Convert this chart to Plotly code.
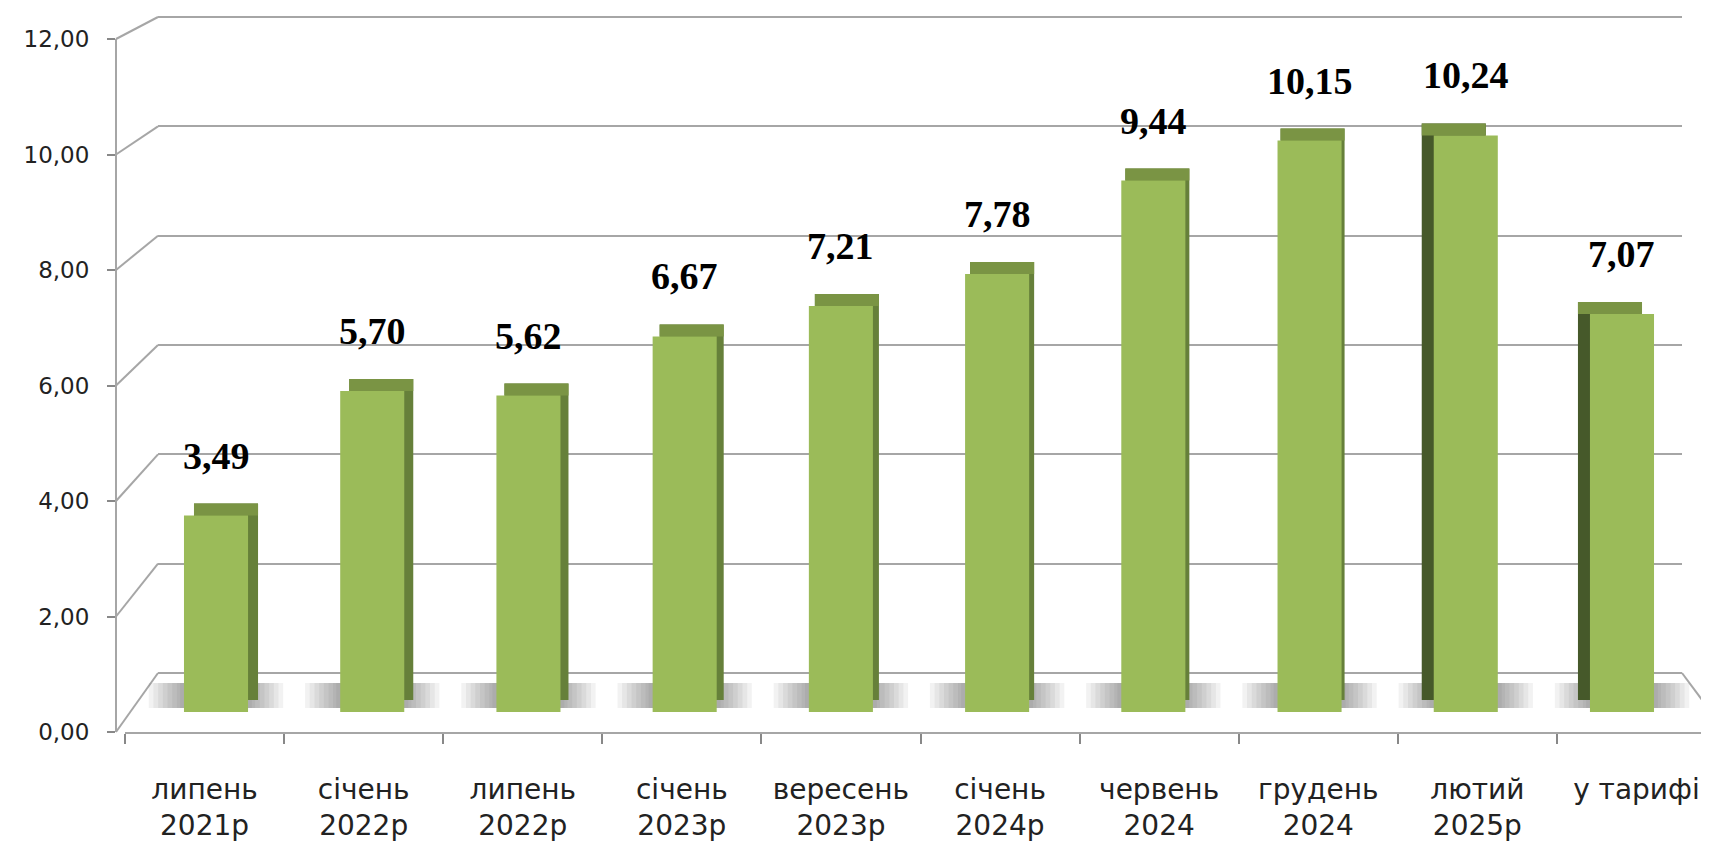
import plotly.graph_objects as go

# ---------------- data ----------------
categories = ["липень<br>2021р", "січень<br>2022р", "липень<br>2022р", "січень<br>2023р",
              "вересень<br>2023р", "січень<br>2024р", "червень<br>2024", "грудень<br>2024",
              "лютий<br>2025р", "у тарифі"]
values = [3.49, 5.70, 5.62, 6.67, 7.21, 7.78, 9.44, 10.15, 10.24, 7.07]
y_ticks = [0, 2, 4, 6, 8, 10, 12]

# ---------------- layout helpers ----------------
# the page body has an 8px margin, so the figure is drawn 8px in from the corner
OFF = 8
W, H = 1709 - OFF, 845 - OFF
def px(x):
    return (x - OFF) / W
def py(y):
    return 1 - (y - OFF) / H

n = len(categories)
SLOT = 156.2                 # px per category on the bar axis
LSLOT = 159.1                # px per category on the front (label) axis
UNIT = 56.3                  # px per value unit on the bar axis
BACK_UNIT = (673 - 17) / 12  # px per value unit on the back wall
BAR_W = 0.41
DY = 12 / UNIT               # depth (vertical) of the 3D top face in data units
side_dx_px = [10, 9, 8, 7, 6, 5, 4, 3, -12, -12]   # perspective of side faces
side_colors = ["#66803a" if d > 0 else "#46592a" for d in side_dx_px]
offsets = [-BAR_W / 2 + d / SLOT for d in side_dx_px]

FRONT = "#9bbb59"
TOP = "#7a9444"
GRID = "#a6a6a6"
TXT = "#222222"
X_AXIS_START = 125

fig = go.Figure()

# back wall (gridlines) subplot carrier
fig.add_trace(go.Scatter(x=[0], y=[0], mode="markers", marker=dict(opacity=0),
                         hoverinfo="skip", showlegend=False, xaxis="x", yaxis="y"))

# floor shadows (soft, layered)
shadow_widths = [0.86, 0.80, 0.74, 0.68, 0.62, 0.56, 0.50, 0.46]
for wdt in shadow_widths:
    fig.add_trace(go.Bar(x=categories, y=[0.445] * n, base=[0.07] * n, width=wdt,
                         marker=dict(color="rgba(80,80,80,0.075)", line=dict(width=0)),
                         hoverinfo="skip", showlegend=False, xaxis="x2", yaxis="y2"))

# side faces
fig.add_trace(go.Bar(x=categories, y=values, base=[DY] * n, width=BAR_W, offset=offsets,
                     marker=dict(color=side_colors, line=dict(width=0)),
                     hoverinfo="skip", showlegend=False, xaxis="x2", yaxis="y2"))
# top faces
fig.add_trace(go.Bar(x=categories, y=[DY] * n, base=values, width=BAR_W, offset=offsets,
                     marker=dict(color=TOP, line=dict(width=0)),
                     hoverinfo="skip", showlegend=False, xaxis="x2", yaxis="y2"))
# front faces
fig.add_trace(go.Bar(x=categories, y=values, width=BAR_W,
                     marker=dict(color=FRONT, line=dict(width=0)),
                     hoverinfo="skip", showlegend=False, xaxis="x2", yaxis="y2"))

# front axes carrier (invisible)
fig.add_trace(go.Scatter(x=categories, y=values, mode="markers", marker=dict(opacity=0),
                         hoverinfo="skip", showlegend=False, xaxis="x3", yaxis="y3"))

annotations = []
for c, v in zip(categories, values):
    annotations.append(dict(x=c, y=v, xref="x2", yref="y2",
                            text="<b>" + f"{v:.2f}".replace(".", ",") + "</b>",
                            showarrow=False, yshift=60, yanchor="middle",
                            font=dict(family="Liberation Serif", size=38, color="black")))

def front_frac(v):
    return py(732) + v / 12 * (py(39) - py(732))
def back_frac(v):
    return py(673) + v / 12 * (py(17) - py(673))

shapes = []
for v in y_ticks:
    shapes.append(dict(type="line", xref="paper", yref="paper",
                       x0=px(116), y0=front_frac(v), x1=px(158), y1=back_frac(v),
                       line=dict(color=GRID, width=2), layer="below"))
shapes.append(dict(type="line", xref="paper", yref="paper",
                   x0=px(1682), y0=py(673), x1=px(1726), y1=py(732),
                   line=dict(color=GRID, width=2), layer="below"))

hidden = dict(showticklabels=False, ticks="", showline=False, zeroline=False,
              showgrid=False, automargin=False)

fig.update_layout(
    template="none",
    width=W, height=H, autosize=False,
    margin=dict(l=0, r=0, t=0, b=0, pad=0),
    paper_bgcolor="white", plot_bgcolor="rgba(0,0,0,0)",
    barmode="overlay",
    separators=", ",
    showlegend=False,
    # back wall
    xaxis=dict(domain=[px(158), px(1682)], range=[0, 1], anchor="y", **hidden),
    yaxis=dict(domain=[py(673), py(673 - 12.05 * BACK_UNIT)], range=[0, 12.05], anchor="x",
               showgrid=True, gridcolor=GRID, gridwidth=2, tickvals=y_ticks,
               zeroline=True, zerolinecolor=GRID, zerolinewidth=2,
               showticklabels=False, ticks="", showline=False, automargin=False),
    # bars
    xaxis2=dict(domain=[px(216 - SLOT / 2), px(1622 + SLOT / 2)], range=[-0.5, 9.5],
                type="category", anchor="y2", **hidden),
    yaxis2=dict(domain=[py(712), py(712 - 12 * UNIT)], range=[0, 12], anchor="x2", **hidden),
    # front axes with labels
    xaxis3=dict(domain=[px(X_AXIS_START), 1],
                range=[-0.5, (1709 - X_AXIS_START) / LSLOT - 0.5], type="category",
                anchor="y3",
                showline=True, linecolor=GRID, linewidth=2, showgrid=False, zeroline=False,
                ticks="outside", tickson="boundaries", ticklen=10, tickcolor="#888888",
                tickwidth=2, ticklabelstandoff=31, automargin=False,
                tickfont=dict(family="DejaVu Sans", size=28, color=TXT)),
    yaxis3=dict(domain=[py(732), py(39)], range=[0, 12], anchor="free", position=px(116),
                showline=True, linecolor=GRID, linewidth=2,
                showgrid=False, zeroline=False, tickvals=y_ticks, tickformat=".2f",
                ticks="outside", ticklen=8, tickcolor="#888888", tickwidth=2,
                ticklabelstandoff=13, automargin=False,
                tickfont=dict(family="DejaVu Sans", size=23, color=TXT)),
    annotations=annotations,
    shapes=shapes,
)

fig.write_html("out.html")
